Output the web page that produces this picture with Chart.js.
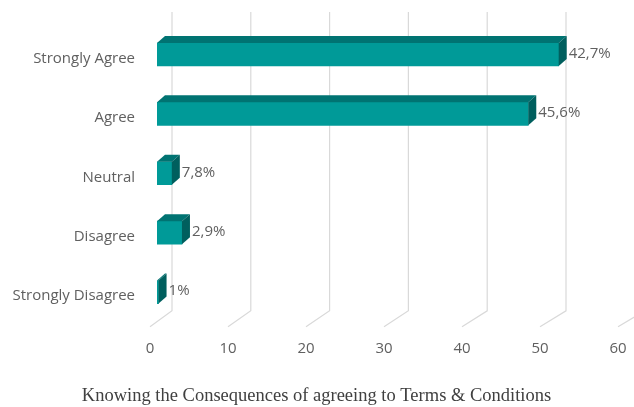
<!DOCTYPE html>
<html>
<head>
<meta charset="utf-8">
<script src="https://cdn.jsdelivr.net/npm/chart.js@4"></script>
<style>
  html, body { margin: 0; padding: 0; background: #ffffff; }
  #wrap { width: 634px; height: 407px; }
</style>
</head>
<body>
<div id="wrap"><canvas id="c" width="634" height="407"></canvas></div>
<script>
const categories = ['Strongly Agree', 'Agree', 'Neutral', 'Disagree', 'Strongly Disagree'];
const barValues = [51.5, 47.6, 1.9, 3.2, 0.2];
const valueLabels = ['42,7%', '45,6%', '7,8%', '2,9%', '1%'];
const xTicks = [0, 10, 20, 30, 40, 50, 60];
const chartTitle = 'Knowing the Consequences of agreeing to Terms & Conditions';

const DEPTH_X = 8, DEPTH_Y = 7;
const TEXT_FONT = '"Open Sans", "Liberation Sans", Arial, sans-serif';

const gridPlugin = {
  id: 'grid3d',
  beforeDatasetsDraw(chart) {
    const ctx = chart.ctx, xs = chart.scales.x, area = chart.chartArea;
    ctx.save();
    ctx.strokeStyle = '#d9d9d9';
    ctx.lineWidth = 1.2;
    xTicks.forEach(v => {
      const x = xs.getPixelForValue(v);
      const bx = x + 15 + v * 0.08;
      ctx.beginPath();
      ctx.moveTo(bx, 12);
      ctx.lineTo(bx, area.bottom - 11);
      ctx.lineTo(x - 7, area.bottom + 5);
      ctx.stroke();
    });
    ctx.restore();
  }
};

const bar3dPlugin = {
  id: 'bar3d',
  afterDatasetsDraw(chart) {
    const ctx = chart.ctx;
    const meta = chart.getDatasetMeta(0);
    ctx.save();
    meta.data.forEach((el, i) => {
      const x0 = el.base, x1 = el.x;
      const top = el.y - el.height / 2, bot = el.y + el.height / 2;
      ctx.fillStyle = '#007372';
      ctx.beginPath();
      ctx.moveTo(x0, top);
      ctx.lineTo(x0 + DEPTH_X, top - DEPTH_Y);
      ctx.lineTo(x1 + DEPTH_X, top - DEPTH_Y);
      ctx.lineTo(x1, top);
      ctx.closePath();
      ctx.fill();
      ctx.fillStyle = '#005f5e';
      ctx.beginPath();
      ctx.moveTo(x1, top);
      ctx.lineTo(x1 + DEPTH_X, top - DEPTH_Y);
      ctx.lineTo(x1 + DEPTH_X, bot - DEPTH_Y);
      ctx.lineTo(x1, bot);
      ctx.closePath();
      ctx.fill();
      ctx.fillStyle = '#606060';
      ctx.font = '15px ' + TEXT_FONT;
      ctx.textAlign = 'left';
      ctx.textBaseline = 'middle';
      ctx.fillText(valueLabels[i], x1 + DEPTH_X + 2, el.y - 1);
    });
    ctx.restore();
  }
};

new Chart(document.getElementById('c'), {
  type: 'bar',
  data: {
    labels: categories,
    datasets: [{
      data: barValues,
      backgroundColor: '#009a98',
      borderWidth: 0,
      barThickness: 23
    }]
  },
  options: {
    indexAxis: 'y',
    responsive: false,
    animation: false,
    devicePixelRatio: 1,
    layout: { padding: { top: 24.75, right: 9, left: 8, bottom: 0 } },
    plugins: {
      legend: { display: false },
      tooltip: { enabled: false },
      title: {
        display: true,
        position: 'bottom',
        text: chartTitle,
        color: '#404040',
        font: { family: '"Liberation Serif", "Times New Roman", serif', size: 18.5, weight: 'normal', lineHeight: 1.2 },
        padding: { top: 27, bottom: 0 }
      }
    },
    scales: {
      x: {
        min: 0, max: 60,
        afterBuildTicks(scale) { scale.ticks = xTicks.map(v => ({ value: v })); },
        afterFit(scale) {
          scale.height = 36;
          scale.paddingLeft = 0; scale.paddingRight = 0;
        },
        grid: { display: false, drawTicks: false },
        border: { display: false },
        ticks: {
          color: '#606060',
          font: { family: TEXT_FONT, size: 15 },
          padding: 18,
          labelOffset: -7,
          maxRotation: 0,
          autoSkip: false
        }
      },
      y: {
        afterFit(scale) {
          scale.width = 149;
          scale.paddingTop = 0; scale.paddingBottom = 0;
        },
        grid: { display: false, drawTicks: false },
        border: { display: false },
        ticks: {
          color: '#606060',
          font: { family: TEXT_FONT, size: 15 },
          padding: 22,
          labelOffset: 4
        }
      }
    }
  },
  plugins: [gridPlugin, bar3dPlugin]
});
</script>
</body>
</html>
